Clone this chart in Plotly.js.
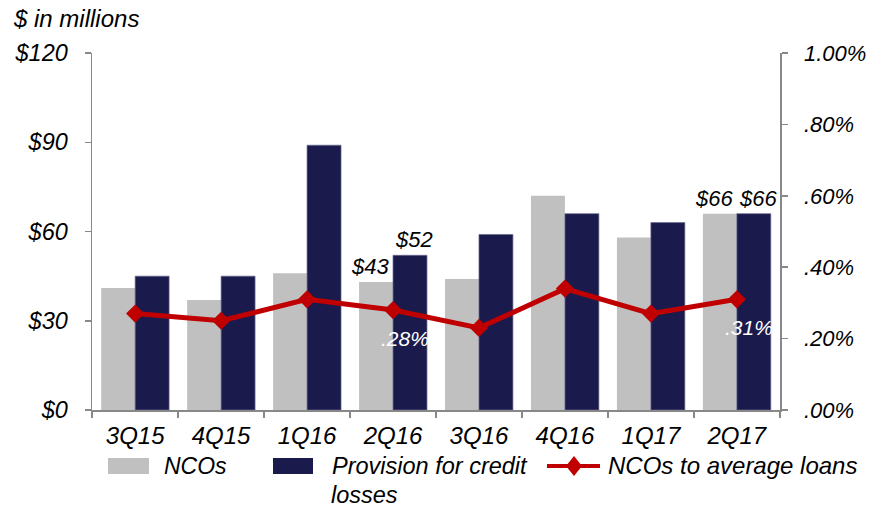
<!DOCTYPE html>
<html>
<head>
<meta charset="utf-8">
<script src="https://cdn.plot.ly/plotly-3.0.1.min.js"></script>
<style>html,body{margin:0;padding:0;background:#fff;}#chart{width:872px;height:507px;}</style>
</head>
<body>
<div id="chart"></div>
<script>
// ---- data ----
var quarters = ["3Q15", "4Q15", "1Q16", "2Q16", "3Q16", "4Q16", "1Q17", "2Q17"];
var ncos = [41, 37, 46, 43, 44, 72, 58, 66];
var provision = [45, 45, 89, 52, 59, 66, 63, 66];
var ncoRatio = [0.27, 0.25, 0.31, 0.28, 0.23, 0.34, 0.27, 0.31];
var ncoLabels = ["", "", "", "$43", "", "", "", "$66"];
var provisionLabels = ["", "", "", "$52", "", "", "", "$66"];
var ratioLabels = ["", "", "", ".28%", "", "", "", ".31%"];
var leftTicks = [0, 30, 60, 90, 120];
var leftTickText = ["$0", "$30", "$60", "$90", "$120"];
var rightTicks = [0, 0.2, 0.4, 0.6, 0.8, 1.0];
var rightTickText = [".00%", ".20%", ".40%", ".60%", ".80%", "1.00%"];

var FONT = "Liberation Sans, Arial, sans-serif";
var GRAY = "#C0C0C0", NAVY = "#1B1A4D", RED = "#C00000", AXIS = "#888888";
var f = function (size, color) { return {family: FONT, size: size, color: color || "#000", style: "italic"}; };

var traces = [
  {type: "bar", name: "NCOs", x: quarters, y: ncos, marker: {color: GRAY}, hoverinfo: "x+y"},
  {type: "bar", name: "Provision for credit losses", x: quarters, y: provision,
   marker: {color: NAVY, line: {color: "#6a6a8e", width: 0.7}}, hoverinfo: "x+y"},
  {type: "scatter", mode: "lines+markers", name: "NCOs to average loans", x: quarters, y: ncoRatio,
   yaxis: "y2", line: {color: RED, width: 5}, marker: {symbol: "diamond", size: 14, color: RED},
   cliponaxis: false}
];

var annotations = [
  {xref: "paper", yref: "paper", x: (11 - 92) / 688, y: 1.098, xanchor: "left", yanchor: "middle",
   text: "$ in millions", showarrow: false, font: f(24)}
];
quarters.forEach(function (q, i) {
  if (ncoLabels[i]) {
    annotations.push({x: q, y: ncos[i], text: ncoLabels[i], showarrow: false, yanchor: "bottom",
      xshift: -23, yshift: 1, font: f(22)});
  }
  if (provisionLabels[i]) {
    annotations.push({x: q, y: provision[i], text: provisionLabels[i], showarrow: false, yanchor: "bottom",
      xshift: 21, yshift: 1, font: f(22)});
  }
  if (ratioLabels[i]) {
    annotations.push({x: q, y: ncoRatio[i], yref: "y2", text: ratioLabels[i], showarrow: false,
      xshift: 12, yshift: -28, font: f(21, "#ffffff")});
  }
});

// custom legend (paper coords: plot spans x 92..780 px, y 410..53 px)
function px(x) { return (x - 92) / 688; }
function py(y) { return (410 - y) / 357; }
var shapes = [
  {type: "rect", xref: "paper", yref: "paper", x0: px(108), x1: px(149), y0: py(458), y1: py(474),
   fillcolor: GRAY, line: {width: 0}},
  {type: "rect", xref: "paper", yref: "paper", x0: px(273), x1: px(313), y0: py(458), y1: py(474),
   fillcolor: NAVY, line: {width: 0}},
  {type: "line", xref: "paper", yref: "paper", x0: px(547), x1: px(600), y0: py(466), y1: py(466),
   line: {color: RED, width: 4}},
  {type: "path", xref: "paper", yref: "paper",
   path: "M" + px(574) + "," + py(456) + " L" + px(582) + "," + py(466) + " L" + px(574) + "," + py(476) +
         " L" + px(566) + "," + py(466) + " Z",
   fillcolor: RED, line: {width: 0}}
];
annotations.push(
  {xref: "paper", yref: "paper", x: px(162), y: py(466), xanchor: "left", yanchor: "middle",
   text: "NCOs", showarrow: false, font: f(23)},
  {xref: "paper", yref: "paper", x: px(330), y: py(466), xanchor: "left", yanchor: "middle",
   text: "Provision for credit", showarrow: false, font: f(23.5)},
  {xref: "paper", yref: "paper", x: px(330), y: py(495), xanchor: "left", yanchor: "middle",
   text: "losses", showarrow: false, font: f(23.5), borderpad: 0},
  {xref: "paper", yref: "paper", x: px(606), y: py(466), xanchor: "left", yanchor: "middle",
   text: "NCOs to average loans", showarrow: false, font: f(24)}
);

var layout = {
  width: 872, height: 507,
  margin: {l: 92, r: 92, t: 53, b: 97},
  paper_bgcolor: "#fff", plot_bgcolor: "#fff",
  barmode: "group", bargap: 0.21, bargroupgap: 0,
  showlegend: false,
  xaxis: {type: "category", showline: true, linecolor: AXIS, linewidth: 1.5,
          ticks: "outside", tickson: "boundaries", ticklen: 6, tickcolor: AXIS, tickwidth: 1.5,
          tickfont: f(24), showgrid: false, zeroline: false, ticklabelstandoff: 4},
  yaxis: {range: [0, 120], tickmode: "array", tickvals: leftTicks, ticktext: leftTickText,
          showline: true, linecolor: AXIS,
          linewidth: 1.5, ticks: "outside", ticklen: 6, tickcolor: AXIS, tickwidth: 1.5,
          tickfont: f(23.5), showgrid: false, zeroline: false, ticklabelstandoff: 12},
  yaxis2: {range: [0, 1], overlaying: "y", side: "right", tickmode: "array", tickvals: rightTicks,
           ticktext: rightTickText,
           showline: true, linecolor: AXIS, linewidth: 1.5, ticks: "outside", ticklen: 6,
           tickcolor: AXIS, tickwidth: 1.5, tickfont: f(22), showgrid: false, zeroline: false,
           ticklabelstandoff: 12},
  annotations: annotations,
  shapes: shapes
};

Plotly.newPlot("chart", traces, layout, {displayModeBar: false, staticPlot: true});
</script>
</body>
</html>
